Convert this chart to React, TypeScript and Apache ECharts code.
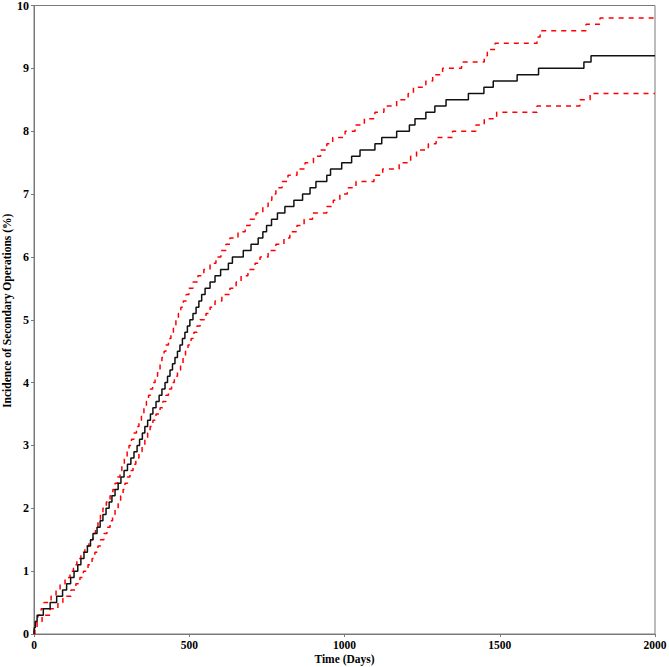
import React, { useEffect, useRef } from "react";
import * as echarts from "echarts";

// [day, cumulative incidence %]
const incidence: [number, number][] = [
  [0, 0], [1, 0.1], [4, 0.2], [10, 0.3], [30, 0.4], [52, 0.5], [73, 0.6], [92, 0.7], [105, 0.8], [118, 0.9],
  [129, 1.0], [141, 1.1], [151, 1.2], [161, 1.3], [172, 1.4], [182, 1.5], [190, 1.6], [203, 1.7], [213, 1.8], [222, 1.9],
  [232, 2.0], [242, 2.1], [251, 2.2], [261, 2.3], [271, 2.4], [280, 2.5], [290, 2.6], [301, 2.7], [312, 2.8], [322, 2.9],
  [332, 3.0], [340, 3.1], [349, 3.2], [357, 3.3], [366, 3.4], [375, 3.5], [383, 3.6], [393, 3.7], [403, 3.8], [412, 3.9],
  [422, 4.0], [430, 4.1], [438, 4.2], [446, 4.3], [454, 4.4], [462, 4.5], [470, 4.6], [478, 4.7], [486, 4.8], [494, 4.9],
  [502, 5.0], [512, 5.1], [522, 5.2], [531, 5.3], [540, 5.4], [551, 5.5], [567, 5.6], [583, 5.7], [601, 5.8], [626, 5.9],
  [639, 6.0], [674, 6.1], [699, 6.2], [722, 6.3], [737, 6.4], [749, 6.5], [765, 6.6], [784, 6.7], [808, 6.8], [837, 6.9],
  [865, 7.0], [889, 7.1], [908, 7.2], [943, 7.3], [955, 7.4], [991, 7.5], [1023, 7.6], [1050, 7.7], [1098, 7.8], [1120, 7.9],
  [1168, 8.0], [1209, 8.1], [1227, 8.2], [1262, 8.3], [1291, 8.4], [1327, 8.5], [1399, 8.6], [1449, 8.7], [1479, 8.8], [1556, 8.9],
  [1625, 9.0], [1771, 9.1], [1794, 9.2], [2000, 9.2],
];

const upperCI: [number, number][] = [
  [0, 0], [2, 0.1], [5, 0.2], [13, 0.3], [23, 0.4], [32, 0.5], [55, 0.6], [71, 0.7], [84, 0.8], [100, 0.9],
  [116, 1.0], [127, 1.1], [138, 1.2], [151, 1.3], [164, 1.4], [177, 1.5], [190, 1.6], [198, 1.7], [206, 1.8], [214, 1.9],
  [222, 2.0], [233, 2.1], [245, 2.2], [254, 2.3], [261, 2.4], [269, 2.5], [277, 2.6], [283, 2.7], [291, 2.8], [300, 2.9],
  [306, 3.0], [314, 3.1], [322, 3.2], [330, 3.3], [338, 3.4], [346, 3.5], [354, 3.6], [362, 3.7], [369, 3.8], [375, 3.9],
  [382, 4.0], [390, 4.1], [398, 4.2], [406, 4.3], [412, 4.4], [419, 4.5], [425, 4.6], [433, 4.7], [441, 4.8], [449, 4.9],
  [457, 5.0], [465, 5.1], [473, 5.2], [481, 5.3], [490, 5.4], [499, 5.5], [512, 5.6], [528, 5.7], [547, 5.8], [567, 5.9],
  [586, 6.0], [602, 6.1], [618, 6.2], [631, 6.3], [657, 6.4], [680, 6.5], [696, 6.6], [715, 6.7], [737, 6.8], [754, 6.9],
  [766, 7.0], [779, 7.1], [799, 7.2], [818, 7.3], [847, 7.4], [873, 7.5], [900, 7.6], [923, 7.7], [943, 7.8], [962, 7.9],
  [1002, 8.0], [1034, 8.1], [1064, 8.2], [1098, 8.3], [1127, 8.4], [1168, 8.5], [1205, 8.6], [1222, 8.7], [1262, 8.8], [1284, 8.9],
  [1316, 9.0], [1377, 9.1], [1450, 9.2], [1460, 9.3], [1485, 9.4], [1620, 9.5], [1630, 9.6], [1778, 9.7], [1823, 9.8], [2000, 9.8],
];

const lowerCI: [number, number][] = [
  [0, 0], [3, 0.1], [10, 0.2], [26, 0.3], [52, 0.4], [77, 0.5], [93, 0.6], [119, 0.7], [135, 0.8], [148, 0.9],
  [159, 1.0], [174, 1.1], [187, 1.2], [196, 1.3], [206, 1.4], [214, 1.5], [225, 1.6], [235, 1.7], [245, 1.8], [253, 1.9],
  [261, 2.0], [271, 2.1], [279, 2.2], [287, 2.3], [293, 2.4], [301, 2.5], [309, 2.6], [319, 2.7], [328, 2.8], [338, 2.9],
  [348, 3.0], [357, 3.1], [366, 3.2], [374, 3.3], [383, 3.4], [393, 3.5], [406, 3.6], [415, 3.7], [425, 3.8], [433, 3.9],
  [443, 4.0], [452, 4.1], [462, 4.2], [472, 4.3], [480, 4.4], [488, 4.5], [496, 4.6], [506, 4.7], [515, 4.8], [525, 4.9],
  [535, 5.0], [554, 5.1], [567, 5.2], [583, 5.3], [605, 5.4], [631, 5.5], [651, 5.6], [667, 5.7], [689, 5.8], [712, 5.9],
  [728, 6.0], [754, 6.1], [779, 6.2], [805, 6.3], [824, 6.4], [847, 6.5], [870, 6.6], [897, 6.7], [943, 6.8], [964, 6.9],
  [985, 7.0], [1009, 7.1], [1037, 7.2], [1095, 7.3], [1123, 7.4], [1176, 7.5], [1213, 7.6], [1232, 7.7], [1270, 7.8], [1295, 7.9],
  [1348, 8.0], [1423, 8.1], [1450, 8.2], [1490, 8.3], [1620, 8.4], [1758, 8.5], [1791, 8.6], [2000, 8.6],
];

const xTicks = { min: 0, max: 2000, interval: 500 };
const yTicks = { min: 0, max: 10, interval: 1 };

const FONT = "'Liberation Serif', 'Times New Roman', serif";
const AXIS_GRAY = "#7a7a7a";

export default function App() {
  const ref = useRef<HTMLDivElement>(null);

  useEffect(() => {
    if (!ref.current) return;
    const chart = echarts.init(ref.current, undefined, { renderer: "svg" });
    const axisCommon = {
      axisLine: { show: true, lineStyle: { color: AXIS_GRAY, width: 1 } },
      axisTick: { show: true, length: 3, lineStyle: { color: AXIS_GRAY } },
      splitLine: { show: false },
      nameLocation: "middle" as const,
      nameMoveOverlap: false,
    };
    chart.setOption({
      animation: false,
      backgroundColor: "#fff",
      grid: {
        left: 34,
        right: 14,
        top: 5.5,
        bottom: 33,
        containLabel: false,
        outerBoundsMode: "none",
        show: true,
        borderColor: AXIS_GRAY,
        borderWidth: 1,
        backgroundColor: "transparent",
      },
      xAxis: {
        type: "value",
        ...xTicks,
        ...axisCommon,
        name: "Time (Days)",
        nameGap: 19,
        nameTextStyle: { fontFamily: FONT, fontWeight: "bold", fontSize: 11.5, color: "#000" },
        axisLabel: {
          fontFamily: FONT, fontWeight: "bold", fontSize: 11.5, color: "#000", margin: 5,
          formatter: (v: number) => String(v),
        },
      },
      yAxis: {
        type: "value",
        ...yTicks,
        ...axisCommon,
        name: "Incidence of Secondary Operations (%)",
        nameGap: 21,
        nameTextStyle: {
          fontFamily: FONT, fontWeight: "bold", fontSize: 11.5, color: "#000",
          padding: [0, 0, 0, 18],
        },
        axisLabel: {
          fontFamily: FONT, fontWeight: "bold", fontSize: 12, color: "#000", margin: 5,
          formatter: (v: number) => String(v),
        },
      },
      series: [
        {
          type: "line",
          step: "end",
          data: upperCI,
          showSymbol: false,
          lineStyle: { color: "#ff0000", width: 1.5, type: [5, 5] },
        },
        {
          type: "line",
          step: "end",
          data: lowerCI,
          showSymbol: false,
          lineStyle: { color: "#ff0000", width: 1.5, type: [5, 5] },
        },
        {
          type: "line",
          step: "end",
          data: incidence,
          showSymbol: false,
          lineStyle: { color: "#111", width: 1.5 },
        },
      ],
    });
    return () => chart.dispose();
  }, []);

  return (
    <div
      ref={ref}
      style={{ position: "fixed", left: 0, top: 0, width: 669, height: 667, background: "#fff" }}
    />
  );
}
